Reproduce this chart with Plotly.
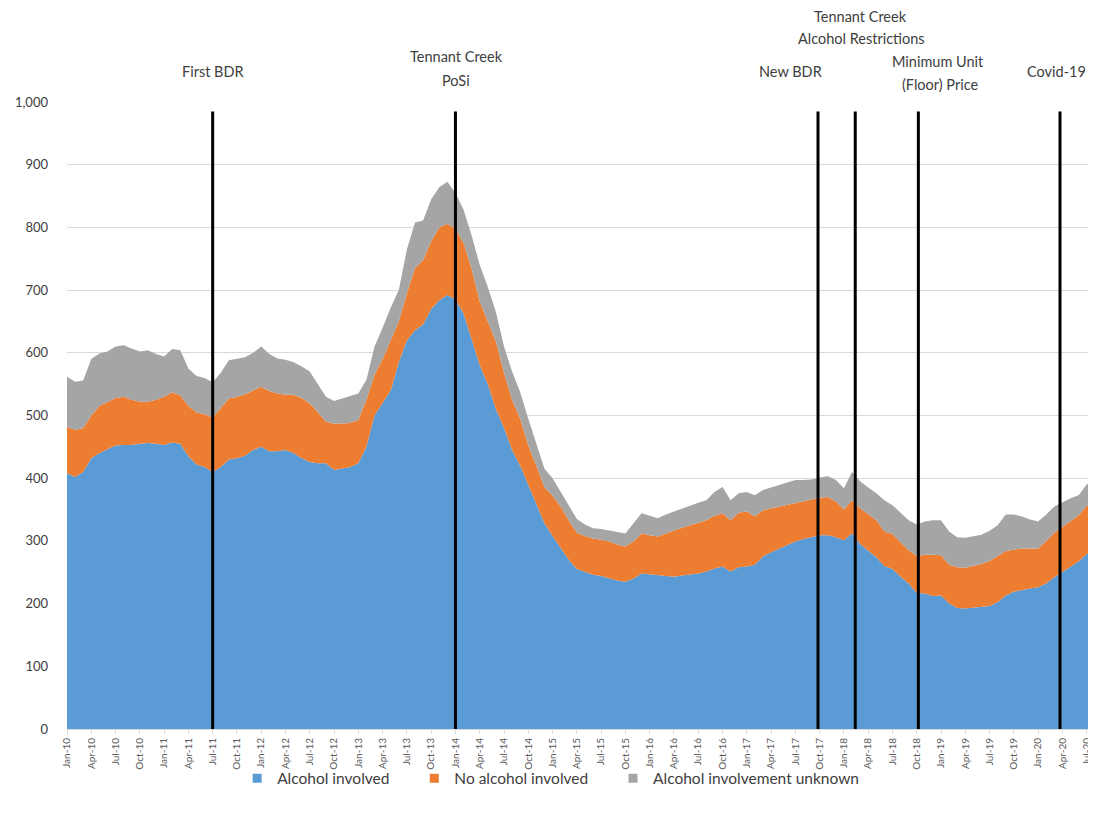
import pandas as pd
import plotly.graph_objects as go

# Monthly categories Jan-10 .. Aug-20
months = pd.date_range("2010-01-01", periods=128, freq="MS")
month_labels = [d.strftime("%b-%y") for d in months]

# Cumulative readings (stack tops)
alcohol_involved = [
    408, 402, 410, 432, 440, 446, 452, 453, 453, 455, 456, 455,
    453, 457, 455, 435, 422, 418, 410, 418, 430, 432, 436, 445,
    450, 443, 443, 445, 440, 432, 426, 424, 424, 413, 415, 418,
    424, 450, 500, 520, 540, 585, 620, 636, 645, 670, 684, 692,
    685, 663, 622, 580, 550, 510, 480, 445, 420, 390, 358, 328,
    308, 288, 270, 255, 250, 246, 244, 240, 237, 235, 240, 248,
    247, 246, 244, 243, 245, 246, 248, 251, 256, 259, 251, 258,
    259, 262, 275, 282, 288, 294, 299, 303, 306, 309, 309, 306,
    301, 312, 295, 285, 274, 260, 255, 243, 232, 217, 216, 212,
    213, 200, 193, 192, 193, 195, 196, 202, 213, 219, 222, 224,
    226, 232, 242, 250, 258, 267, 279, 283,
]
top_with_no_alcohol = [
    482, 477, 480, 500, 515, 522, 528, 530, 525, 522, 522, 525,
    530, 537, 532, 515, 505, 502, 497, 512, 527, 530, 534, 540,
    546, 539, 535, 533, 533, 528, 519, 505, 490, 487, 488, 488,
    493, 525, 565, 590, 620, 650, 695, 735, 748, 778, 800, 806,
    798, 775, 734, 682, 650, 618, 568, 525, 495, 452, 420, 385,
    372, 355, 333, 313, 308, 304, 302, 299, 294, 291, 299, 312,
    309, 307, 312, 317, 321, 325, 329, 333, 340, 344, 333, 345,
    347, 339, 349, 352, 355, 358, 360, 364, 366, 369, 370, 363,
    350, 365, 352, 343, 333, 315, 311, 298, 285, 276, 278, 278,
    277, 262, 258, 257, 260, 263, 268, 276, 284, 286, 288, 288,
    288, 300, 313, 322, 331, 341, 356, 360,
]
top_total = [
    562, 554, 556, 590, 599, 602, 610, 612, 607, 602, 604, 598,
    594, 606, 604, 575, 563, 560, 553, 568, 588, 591, 593, 600,
    610, 598, 591, 589, 585, 578, 570, 550, 530, 523, 527, 530,
    535, 557, 610, 640, 672, 700, 765, 808, 811, 845, 864, 873,
    855, 828, 787, 740, 705, 665, 610, 570, 537, 495, 455, 415,
    400, 378, 355, 335, 326, 320, 319, 317, 314, 312, 328, 344,
    340, 336, 342, 347, 352, 357, 361, 365, 378, 386, 365, 376,
    378, 373, 381, 385, 389, 393, 397, 397, 398, 401, 403, 397,
    384, 410, 395, 385, 376, 365, 357, 345, 333, 326, 331, 333,
    333, 315, 306, 305, 308, 310, 316, 325, 342, 342, 339, 334,
    331, 342, 355, 362, 368, 373, 390, 395,
]
no_alcohol_involved = [b - a for a, b in zip(alcohol_involved, top_with_no_alcohol)]
involvement_unknown = [c - b for b, c in zip(top_with_no_alcohol, top_total)]

series_names = ["Alcohol involved", "No alcohol involved", "Alcohol involvement unknown"]
series_values = [alcohol_involved, no_alcohol_involved, involvement_unknown]
series_colors = ["#5B9BD5", "#ED7D31", "#A5A5A5"]
legend_pad = ["\u00a0" * 5, "\u00a0" * 5, ""]

# Policy events: month index (from Jan-10) of each marker line
event_positions = [18, 48, 92.8, 97.4, 105.2, 122.7]
# Event label lines: text, month-index position, height (axis units)
label_texts = ["First BDR", "Tennant Creek", "PoSi", "New BDR", "Tennant Creek",
               "Alcohol Restrictions", "Minimum Unit", "(Floor) Price", "Covid-19"]
label_x = [18.07, 48.1, 48.1, 89.35, 98.0, 98.2, 107.6, 107.9, 122.3]
label_y = [1048, 1073, 1035, 1048, 1137, 1102, 1065, 1028, 1048]

x_idx = list(range(len(month_labels)))

fig = go.Figure()
for name, vals, col in zip(series_names, series_values, series_colors):
    fig.add_trace(go.Scatter(
        x=x_idx, y=vals, mode="lines", stackgroup="one",
        line=dict(width=0, color=col), fillcolor=col,
        name=name, showlegend=False, hoverinfo="skip",
    ))
for name, col, pad in zip(series_names, series_colors, legend_pad):
    fig.add_trace(go.Scatter(
        x=[None], y=[None], mode="markers", name=name + pad,
        marker=dict(symbol="square", size=9, color=col),
    ))

for pos in event_positions:
    fig.add_shape(type="line", x0=pos, x1=pos, y0=0, y1=985,
                  xref="x", yref="y", line=dict(color="black", width=3))

for txt, lx, ly in zip(label_texts, label_x, label_y):
    fig.add_annotation(x=lx, y=ly / 1000, xref="x", yref="paper", text=txt,
                       showarrow=False, font=dict(size=14.5, color="#404040"),
                       align="center", yanchor="middle", xanchor="center")

tick_idx = list(range(0, 127, 3))
fig.update_xaxes(
    range=[0, 127.15], tickmode="array", tickvals=tick_idx,
    ticktext=[month_labels[i] for i in tick_idx], tickangle=-90,
    tickfont=dict(size=10, color="#595959"), showgrid=False,
    showline=True, linecolor="#D9D9D9", ticks="outside", ticklen=4,
    tickcolor="#D9D9D9", zeroline=False, automargin=False,
)
fig.update_yaxes(
    range=[0, 1000], dtick=100, tickformat=",", showgrid=True,
    gridcolor="#D9D9D9", gridwidth=1, zeroline=False,
    tickfont=dict(size=13, color="#404040"), ticklabelstandoff=18,
    automargin=False,
)
fig.update_layout(
    width=1088, height=809, paper_bgcolor="white", plot_bgcolor="white",
    margin=dict(l=59, r=0, t=94, b=88),
    font=dict(family="Lato, Carlito, Calibri, sans-serif"),
    showlegend=True,
    legend=dict(orientation="h", x=0.470, xanchor="center", y=-0.052, yanchor="top",
                font=dict(size=15.5, color="#404040"), itemwidth=30,
                traceorder="normal", bgcolor="rgba(0,0,0,0)"),
)

fig.write_html("out.html")
